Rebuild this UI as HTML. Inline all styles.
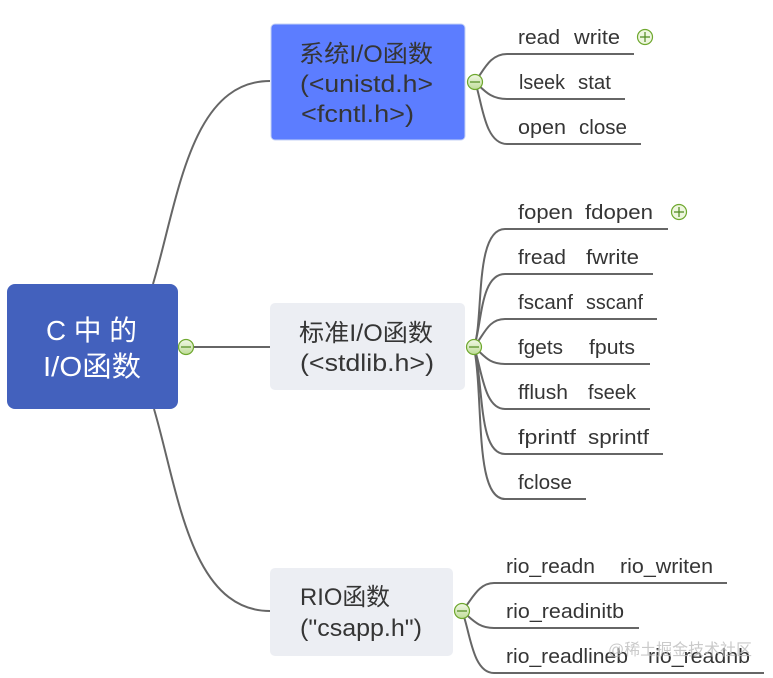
<!DOCTYPE html>
<html><head><meta charset="utf-8"><style>
html,body{margin:0;padding:0;background:#fff;width:773px;height:678px;overflow:hidden}
svg{display:block}
text{font-family:"Liberation Sans","Noto Sans CJK SC",sans-serif;fill:#353535;font-size:20px}
.n{font-size:24px}
.r{font-size:28px;fill:#fff}
.l{fill:none;stroke:#666;stroke-width:2}
</style></head><body>
<svg width="773" height="678" viewBox="0 0 773 678" xmlns="http://www.w3.org/2000/svg">
<defs><linearGradient id="g" x1="0" y1="0" x2="0" y2="1"><stop offset="0" stop-color="#f1f8e6"/><stop offset="1" stop-color="#bfdc98"/></linearGradient></defs>
<g class="l">
<path class="l" d="M153 284C178 200 190 81 270 81"/>
<path class="l" d="M154 409C178 490 190 611 270 611"/>
<path class="l" d="M178 347H270"/>
<path class="l" d="M475 82C484 70 490 54 507 54H634"/>
<path class="l" d="M475 82C484 90 490 99 507 99H625"/>
<path class="l" d="M475 82C482 100 484 144 507 144H641"/>
<path class="l" d="M474 347C484 320 474 229 505 229H668"/>
<path class="l" d="M474 347C482 325 480 274 505 274H653"/>
<path class="l" d="M474 347C484 335 488 319 505 319H657"/>
<path class="l" d="M474 347C484 355 488 364 505 364H650"/>
<path class="l" d="M474 347C482 370 484 409 505 409H650"/>
<path class="l" d="M474 347C484 385 478 454 505 454H663"/>
<path class="l" d="M474 347C484 400 474 499 505 499H586"/>
<path class="l" d="M462 611C472 600 478 583 494 583H727"/>
<path class="l" d="M462 611C472 619 478 628 494 628H639"/>
<path class="l" d="M462 611C470 630 472 673 494 673H764"/>
</g>
<rect x="7" y="284" width="171" height="125" rx="8" fill="#4361bd"/>
<rect x="271" y="24" width="194" height="116" rx="4" fill="#5c7dff" stroke="#c4d2f5" stroke-width="1"/>
<rect x="270" y="303" width="195" height="87" rx="5" fill="#eceef3"/>
<rect x="270" y="568" width="183" height="88" rx="5" fill="#eceef3"/>

<text class="r" x="46" y="340" textLength="91" lengthAdjust="spacingAndGlyphs" xml:space="preserve">C 中 的</text>
<text class="r" x="43" y="376" textLength="98" lengthAdjust="spacingAndGlyphs">I/O函数</text>

<text class="n" x="299" y="62" textLength="134" lengthAdjust="spacingAndGlyphs">系统I/O函数</text>
<text class="n" x="300" y="92" textLength="133" lengthAdjust="spacingAndGlyphs">(&lt;unistd.h&gt;</text>
<text class="n" x="301" y="122" textLength="113" lengthAdjust="spacingAndGlyphs">&lt;fcntl.h&gt;)</text>
<text class="n" x="299" y="341" textLength="134" lengthAdjust="spacingAndGlyphs">标准I/O函数</text>
<text class="n" x="300" y="371" textLength="134" lengthAdjust="spacingAndGlyphs">(&lt;stdlib.h&gt;)</text>
<text class="n" x="300" y="605" textLength="90" lengthAdjust="spacingAndGlyphs">RIO函数</text>
<text class="n" x="300" y="636" textLength="122" lengthAdjust="spacingAndGlyphs">("csapp.h")</text>

<text x="518" y="44" textLength="42" lengthAdjust="spacingAndGlyphs">read</text><text x="574" y="44" textLength="46" lengthAdjust="spacingAndGlyphs">write</text>
<text x="519" y="89" textLength="46" lengthAdjust="spacingAndGlyphs">lseek</text><text x="578" y="89" textLength="33" lengthAdjust="spacingAndGlyphs">stat</text>
<text x="518" y="134" textLength="48" lengthAdjust="spacingAndGlyphs">open</text><text x="579" y="134" textLength="48" lengthAdjust="spacingAndGlyphs">close</text>

<text x="518" y="219" textLength="55" lengthAdjust="spacingAndGlyphs">fopen</text><text x="585" y="219" textLength="68" lengthAdjust="spacingAndGlyphs">fdopen</text>
<text x="518" y="264" textLength="48" lengthAdjust="spacingAndGlyphs">fread</text><text x="586" y="264" textLength="53" lengthAdjust="spacingAndGlyphs">fwrite</text>
<text x="518" y="309" textLength="55" lengthAdjust="spacingAndGlyphs">fscanf</text><text x="586" y="309" textLength="57" lengthAdjust="spacingAndGlyphs">sscanf</text>
<text x="518" y="354" textLength="45" lengthAdjust="spacingAndGlyphs">fgets</text><text x="589" y="354" textLength="46" lengthAdjust="spacingAndGlyphs">fputs</text>
<text x="518" y="399" textLength="50" lengthAdjust="spacingAndGlyphs">fflush</text><text x="588" y="399" textLength="48" lengthAdjust="spacingAndGlyphs">fseek</text>
<text x="518" y="444" textLength="58" lengthAdjust="spacingAndGlyphs">fprintf</text><text x="588" y="444" textLength="61" lengthAdjust="spacingAndGlyphs">sprintf</text>
<text x="518" y="489" textLength="54" lengthAdjust="spacingAndGlyphs">fclose</text>

<text x="506" y="573" textLength="89" lengthAdjust="spacingAndGlyphs">rio_readn</text><text x="620" y="573" textLength="93" lengthAdjust="spacingAndGlyphs">rio_writen</text>
<text x="506" y="618" textLength="118" lengthAdjust="spacingAndGlyphs">rio_readinitb</text>
<text x="506" y="663" textLength="122" lengthAdjust="spacingAndGlyphs">rio_readlineb</text><text x="648" y="663" textLength="102" lengthAdjust="spacingAndGlyphs">rio_readnb</text>

<text x="608" y="655" textLength="144" lengthAdjust="spacingAndGlyphs" style="font-size:16px;fill:#bdbdbd;opacity:.8">@稀土掘金技术社区</text>

<g stroke="#6fa82f" stroke-width="1.2" fill="url(#g)">
<circle cx="186" cy="347" r="7.5"/><path d="M181 347H191" fill="none" stroke="#4f8a1e"/>
<circle cx="475" cy="82" r="7.5"/><path d="M470 82H480" fill="none" stroke="#4f8a1e"/>
<circle cx="474" cy="347" r="7.5"/><path d="M469 347H479" fill="none" stroke="#4f8a1e"/>
<circle cx="462" cy="611" r="7.5"/><path d="M457 611H467" fill="none" stroke="#4f8a1e"/>
<circle cx="645" cy="37" r="7.5" fill="#eef6df"/><path d="M640 37H650M645 32V42" fill="none" stroke="#4f8a1e"/>
<circle cx="679" cy="212" r="7.5" fill="#eef6df"/><path d="M674 212H684M679 207V217" fill="none" stroke="#4f8a1e"/>
</g>
</svg>
</body></html>
